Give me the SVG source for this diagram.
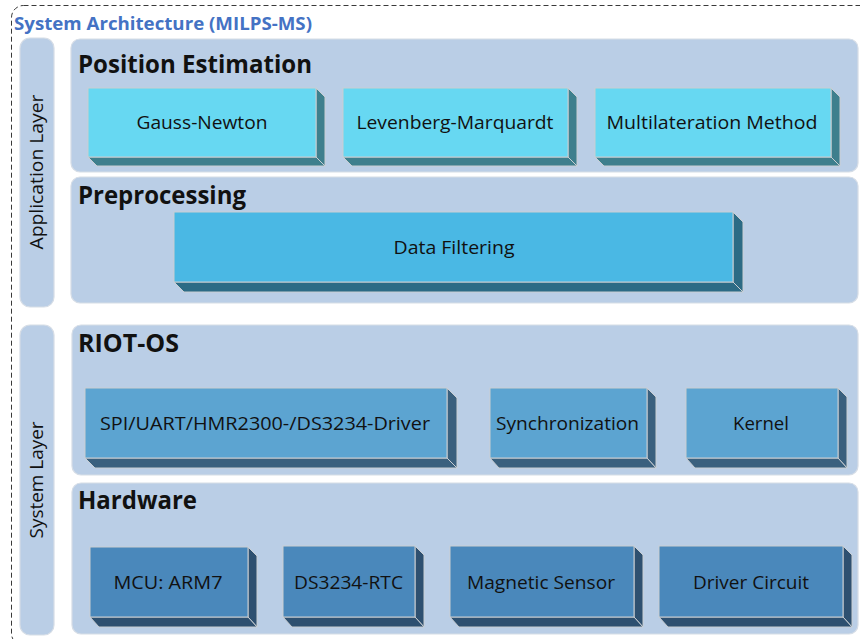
<svg xmlns="http://www.w3.org/2000/svg" width="860" height="639" viewBox="0 0 860 639">
  <style>
    .frame { fill: none; stroke: #3a3a3a; stroke-width: 1; stroke-dasharray: 5 3; }
    .panel { fill: #BACEE6; stroke: #D6DDE6; stroke-width: 1.2; }
    .title { font-family: "Open Sans", "Liberation Sans", sans-serif; font-weight: 700; font-size: 18px; fill: #4472C4; }
    .head { font-family: "Open Sans", "Liberation Sans", sans-serif; font-weight: 700; font-size: 25.5px; fill: #111; }
    .side-label { font-family: "Open Sans", "Liberation Sans", sans-serif; font-size: 18px; fill: #111; text-anchor: middle; }
    .lbl { font-family: "Open Sans", "Liberation Sans", sans-serif; font-size: 18px; fill: #111; text-anchor: middle; }
    .edge { stroke: #C9CED2; stroke-width: 1; }
    .cyan .face { fill: #67D8F2; }
    .cyan .depth { fill: #3E7F8D; }
    .sky .face { fill: #4AB8E4; }
    .sky .depth { fill: #2C6B85; }
    .os .face { fill: #5CA4D1; }
    .os .depth { fill: #3A607E; }
    .hw .face { fill: #4A88BB; }
    .hw .depth { fill: #2E5070; }
  </style>

  <!-- outer dashed frame -->
  <rect class="frame" x="11.5" y="5.5" width="880" height="640" rx="12"/>
  <text class="title" x="14" y="30" textLength="298" lengthAdjust="spacingAndGlyphs">System Architecture (MILPS-MS)</text>

  <!-- layer bars -->
  <g id="application-layer">
    <rect class="panel" x="20" y="38" width="34" height="269" rx="10"/>
    <text class="side-label" transform="translate(43 172) rotate(-90)" textLength="155" lengthAdjust="spacingAndGlyphs">Application Layer</text>
  </g>
  <g id="system-layer">
    <rect class="panel" x="20" y="325" width="34" height="310" rx="10"/>
    <text class="side-label" transform="translate(43 480) rotate(-90)" textLength="117" lengthAdjust="spacingAndGlyphs">System Layer</text>
  </g>

  <!-- Position Estimation -->
  <g id="position-estimation">
    <rect class="panel" x="71" y="39" width="787" height="133" rx="9"/>
    <text class="head" x="78" y="73" textLength="234" lengthAdjust="spacingAndGlyphs">Position Estimation</text>
  </g>
  <g id="gauss-newton" class="cyan">
    <polygon class="depth edge" points="316,88 325,97 325,166 316,157"/>
    <polygon class="depth edge" points="88,157 316,157 325,166 97,166"/>
    <rect class="face edge" x="88" y="88" width="228" height="69"/>
    <text class="lbl" x="202" y="129" textLength="131" lengthAdjust="spacingAndGlyphs">Gauss-Newton</text>
  </g>
  <g id="levenberg-marquardt" class="cyan">
    <polygon class="depth edge" points="568,88 577,97 577,166 568,157"/>
    <polygon class="depth edge" points="343,157 568,157 577,166 352,166"/>
    <rect class="face edge" x="343" y="88" width="225" height="69"/>
    <text class="lbl" x="455" y="129" textLength="197" lengthAdjust="spacingAndGlyphs">Levenberg-Marquardt</text>
  </g>
  <g id="multilateration" class="cyan">
    <polygon class="depth edge" points="831,88 840,97 840,166 831,157"/>
    <polygon class="depth edge" points="595,157 831,157 840,166 604,166"/>
    <rect class="face edge" x="595" y="88" width="236" height="69"/>
    <text class="lbl" x="712" y="129" textLength="211" lengthAdjust="spacingAndGlyphs">Multilateration Method</text>
  </g>

  <!-- Preprocessing -->
  <g id="preprocessing">
    <rect class="panel" x="71" y="177" width="787" height="126" rx="9"/>
    <text class="head" x="78" y="204" textLength="168" lengthAdjust="spacingAndGlyphs">Preprocessing</text>
  </g>
  <g id="data-filtering" class="sky">
    <polygon class="depth edge" points="733,212 743,222 743,292 733,282"/>
    <polygon class="depth edge" points="174,282 733,282 743,292 184,292"/>
    <rect class="face edge" x="174" y="212" width="559" height="70"/>
    <text class="lbl" x="454" y="253.5" textLength="121" lengthAdjust="spacingAndGlyphs">Data Filtering</text>
  </g>

  <!-- RIOT-OS -->
  <g id="riot-os">
    <rect class="panel" x="72" y="325" width="786" height="150" rx="9"/>
    <text class="head" x="78" y="352" textLength="101" lengthAdjust="spacingAndGlyphs">RIOT-OS</text>
  </g>
  <g id="drivers" class="os">
    <polygon class="depth edge" points="447,388 457,398 457,468 447,458"/>
    <polygon class="depth edge" points="85,458 447,458 457,468 95,468"/>
    <rect class="face edge" x="85" y="388" width="362" height="70"/>
    <text class="lbl" x="265" y="429.5" textLength="330" lengthAdjust="spacingAndGlyphs">SPI/UART/HMR2300-/DS3234-Driver</text>
  </g>
  <g id="synchronization" class="os">
    <polygon class="depth edge" points="647,388 656,397 656,468 647,458"/>
    <polygon class="depth edge" points="490,458 647,458 656,468 499,468"/>
    <rect class="face edge" x="490" y="388" width="157" height="70"/>
    <text class="lbl" x="567.5" y="429.5" textLength="143" lengthAdjust="spacingAndGlyphs">Synchronization</text>
  </g>
  <g id="kernel" class="os">
    <polygon class="depth edge" points="838,388 847,397 847,468 838,458"/>
    <polygon class="depth edge" points="686,458 838,458 847,468 695,468"/>
    <rect class="face edge" x="686" y="388" width="152" height="70"/>
    <text class="lbl" x="761" y="429.5" textLength="56" lengthAdjust="spacingAndGlyphs">Kernel</text>
  </g>

  <!-- Hardware -->
  <g id="hardware">
    <rect class="panel" x="72" y="483" width="786" height="151" rx="9"/>
    <text class="head" x="78" y="509" textLength="119" lengthAdjust="spacingAndGlyphs">Hardware</text>
  </g>
  <g id="mcu" class="hw">
    <polygon class="depth edge" points="248,547 257,556 257,627 248,617"/>
    <polygon class="depth edge" points="90,617 248,617 257,627 99,627"/>
    <rect class="face edge" x="90" y="547" width="158" height="70"/>
    <text class="lbl" x="168" y="588.5" textLength="109" lengthAdjust="spacingAndGlyphs">MCU: ARM7</text>
  </g>
  <g id="rtc" class="hw">
    <polygon class="depth edge" points="415,546 424,555 424,627 415,617"/>
    <polygon class="depth edge" points="283,617 415,617 424,627 292,627"/>
    <rect class="face edge" x="283" y="546" width="132" height="71"/>
    <text class="lbl" x="348.5" y="588.5" textLength="109" lengthAdjust="spacingAndGlyphs">DS3234-RTC</text>
  </g>
  <g id="magnetic-sensor" class="hw">
    <polygon class="depth edge" points="634,546 643,555 643,627 634,617"/>
    <polygon class="depth edge" points="450,617 634,617 643,627 459,627"/>
    <rect class="face edge" x="450" y="546" width="184" height="71"/>
    <text class="lbl" x="541" y="588.5" textLength="148" lengthAdjust="spacingAndGlyphs">Magnetic Sensor</text>
  </g>
  <g id="driver-circuit" class="hw">
    <polygon class="depth edge" points="843,546 852,555 852,627 843,617"/>
    <polygon class="depth edge" points="659,617 843,617 852,627 668,627"/>
    <rect class="face edge" x="659" y="546" width="184" height="71"/>
    <text class="lbl" x="751" y="588.5" textLength="116" lengthAdjust="spacingAndGlyphs">Driver Circuit</text>
  </g>
</svg>
